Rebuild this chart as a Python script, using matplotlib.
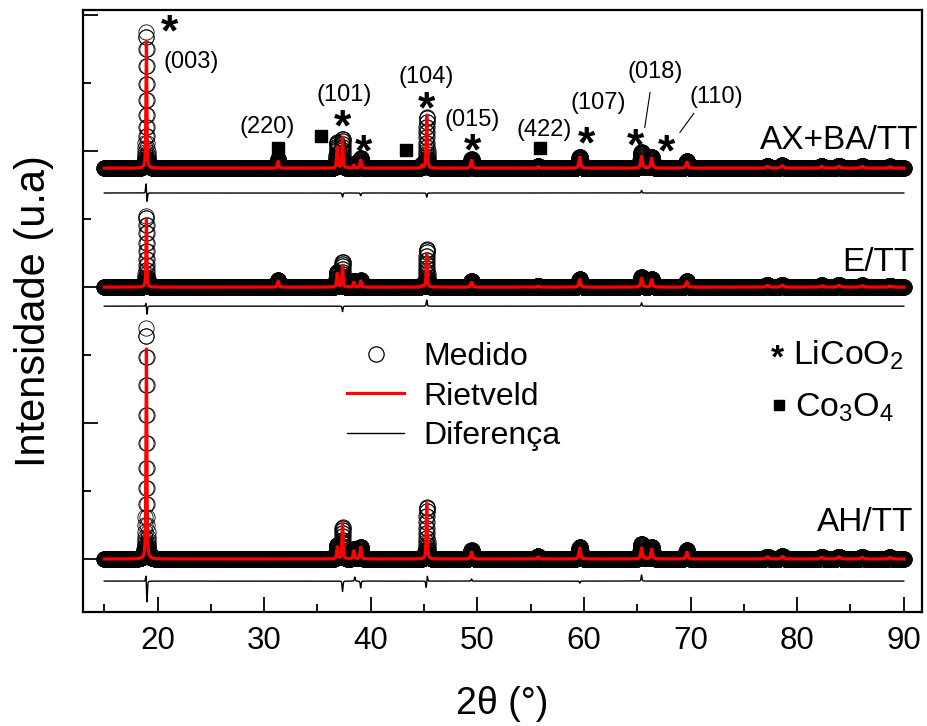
import matplotlib
matplotlib.use("Agg")
import matplotlib.pyplot as plt
from matplotlib.lines import Line2D
import numpy as np

plt.rcParams['font.family'] = ['Liberation Sans', 'DejaVu Sans']
plt.rcParams['mathtext.fontset'] = 'custom'
plt.rcParams['mathtext.rm'] = 'Liberation Sans'

# peak positions (2theta) and widths, shared by the three samples
peak_pos = [18.95, 31.3, 36.85, 37.35, 38.4, 39.05, 44.8, 45.25, 49.45, 55.7,
            59.6, 65.4, 66.35, 69.65, 77.2, 78.6, 82.3, 83.9, 86.1, 88.7]
peak_fwhm = [0.10, 0.15, 0.14, 0.12, 0.15, 0.15, 0.15, 0.12, 0.18, 0.2,
             0.2, 0.2, 0.2, 0.2, 0.3, 0.3, 0.3, 0.3, 0.3, 0.3]

# AH/TT
ah_obs = [3400, 0, 200, 470, 150, 180, 0, 770, 130, 40,
          180, 220, 175, 130, 35, 40, 30, 35, 30, 25]
ah_calc = [3090, 0, 175, 530, 120, 175, 0, 820, 100, 30,
           160, 160, 145, 100, 30, 35, 25, 30, 25, 20]
ah_diff_pos = [18.92, 19.0, 37.35, 38.5, 39.05, 45.2, 45.3, 49.45, 59.6, 65.4]
ah_diff_amp = [120, -330, -150, 60, -100, -100, 80, 30, -30, 90]

# E/TT
e_obs = [1050, 110, 220, 370, 90, 100, 30, 560, 90, 20,
         120, 150, 120, 90, 30, 35, 25, 30, 25, 20]
e_calc = [1000, 90, 200, 320, 70, 90, 20, 480, 70, 15,
          110, 130, 110, 80, 25, 30, 20, 25, 20, 15]
e_diff_pos = [18.92, 19.0, 37.35, 45.25, 65.4]
e_diff_amp = [60, -130, -80, 90, 50]

# AX+BA/TT
ax_obs = [2000, 130, 380, 430, 60, 150, 50, 750, 130, 30,
          170, 235, 170, 110, 30, 40, 30, 35, 30, 25]
ax_calc = [1870, 100, 310, 455, 45, 120, 40, 780, 115, 20,
           160, 175, 145, 90, 25, 35, 25, 30, 25, 20]
ax_diff_pos = [18.92, 19.0, 37.35, 39.05, 45.25, 65.4]
ax_diff_amp = [160, -150, -60, -40, -60, 40]

offsets = [0, 4000, 5750]
diff_offsets = [-325, -280, -365]

tt = np.arange(15.0, 90.0001, 0.01)


def profile(pos, hgt, fwhm, eta=0.6):
    y = np.zeros_like(tt)
    for p, h, w in zip(pos, hgt, fwhm):
        d = (tt - p) / (w / 2)
        y += h * (eta / (1 + d ** 2) + (1 - eta) * np.exp(-np.log(2) * d ** 2))
    return y


fig = plt.figure(figsize=(9.27, 7.26), dpi=100)
ax = fig.add_axes([0.0895, 0.157, 0.905, 0.829])

sets = [(ah_obs, ah_calc, ah_diff_pos, ah_diff_amp),
        (e_obs, e_calc, e_diff_pos, e_diff_amp),
        (ax_obs, ax_calc, ax_diff_pos, ax_diff_amp)]

for (obs, calc, dpos, damp), off, doff in zip(sets, offsets, diff_offsets):
    yo = profile(peak_pos, obs, peak_fwhm) + off
    yc = profile(peak_pos, calc, peak_fwhm) + off
    yd = profile(dpos, damp, [0.1] * len(dpos), eta=0.3) + off + doff
    ax.plot(tt, yo, 'o', ms=11, mfc='none', mec='black', mew=0.6)
    ax.plot(tt, yc, '-', color='red', lw=2.3)
    ax.plot(tt, yd, '-', color='black', lw=1.0)

# sample names
ax.text(91.4, 6159, 'AX+BA/TT', ha='right', va='center', fontsize=24)
ax.text(91.0, 4366, 'E/TT', ha='right', va='center', fontsize=24)
ax.text(90.9, 544, 'AH/TT', ha='right', va='center', fontsize=24)

# reflections
hkl = [('(003)', 23.18, 7306), ('(220)', 30.3, 6350), ('(101)', 37.5, 6821),
       ('(104)', 45.2, 7085), ('(015)', 49.5, 6453), ('(422)', 56.3, 6306),
       ('(107)', 61.3, 6703), ('(018)', 66.7, 7159), ('(110)', 72.4, 6791)]
for lab, x, y in hkl:
    ax.text(x, y, lab, ha='center', va='center', fontsize=17)

stars = [(21.12, 7729), (37.3, 6333), (39.3, 5965), (45.2, 6597), (49.5, 5980),
         (60.2, 6083), (64.8, 6053), (67.7, 5965)]
for x, y in stars:
    ax.text(x, y, '*', ha='center', va='center', fontsize=32, fontweight='bold')

squares_x = [31.3, 35.3, 43.3, 55.9]
squares_y = [6042, 6218, 6012, 6042]
ax.plot(squares_x, squares_y, 's', color='black', ms=8)

ax.plot([66.2, 65.7], [6865, 6350], color='black', lw=0.8)
ax.plot([70.3, 69.0], [6556, 6277], color='black', lw=0.8)

# phase key
ax.text(78.1, 2943, '*', ha='center', va='center', fontsize=24, fontweight='bold')
ax.text(79.64, 2866, r'LiCoO$\mathregular{_2}$', ha='left', va='baseline', fontsize=24.5)
ax.plot([78.3], [2264], 's', color='black', ms=7)
ax.text(79.8, 2102, r'Co$\mathregular{_3}$O$\mathregular{_4}$', ha='left', va='baseline', fontsize=24.5)

handles = [Line2D([], [], ls='none', marker='o', ms=11, mfc='none', mec='black', mew=0.9),
           Line2D([], [], color='red', lw=2.3),
           Line2D([], [], color='black', lw=1.0)]
ax.legend(handles, ['Medido', 'Rietveld', 'Diferença'], loc='upper left',
          bbox_to_anchor=(0.3147, 0.4485), frameon=False, fontsize=23,
          handlelength=1.8, handletextpad=0.6, labelspacing=0.3,
          borderpad=0, borderaxespad=0)

ax.set_xlim(13.0, 91.7)
ax.set_ylim(-780, 8075)
ax.set_xticks(np.arange(20, 91, 10))
ax.set_xticks(np.arange(15, 91, 10), minor=True)
ax.set_yticks(np.arange(0, 8001, 2000))
ax.set_yticks(np.arange(1000, 8001, 2000), minor=True)
ax.set_yticklabels([])
ax.tick_params(which='both', direction='in', width=1.3, labelsize=22.5, pad=10)
ax.tick_params(which='major', length=11)
ax.tick_params(which='minor', length=6)
for s in ax.spines.values():
    s.set_linewidth(1.6)

ax.set_xlabel('2θ (°)', fontsize=27, labelpad=22)
ax.set_ylabel('Intensidade (u.a)', fontsize=30, labelpad=11)

plt.savefig('out.png', dpi=100)
